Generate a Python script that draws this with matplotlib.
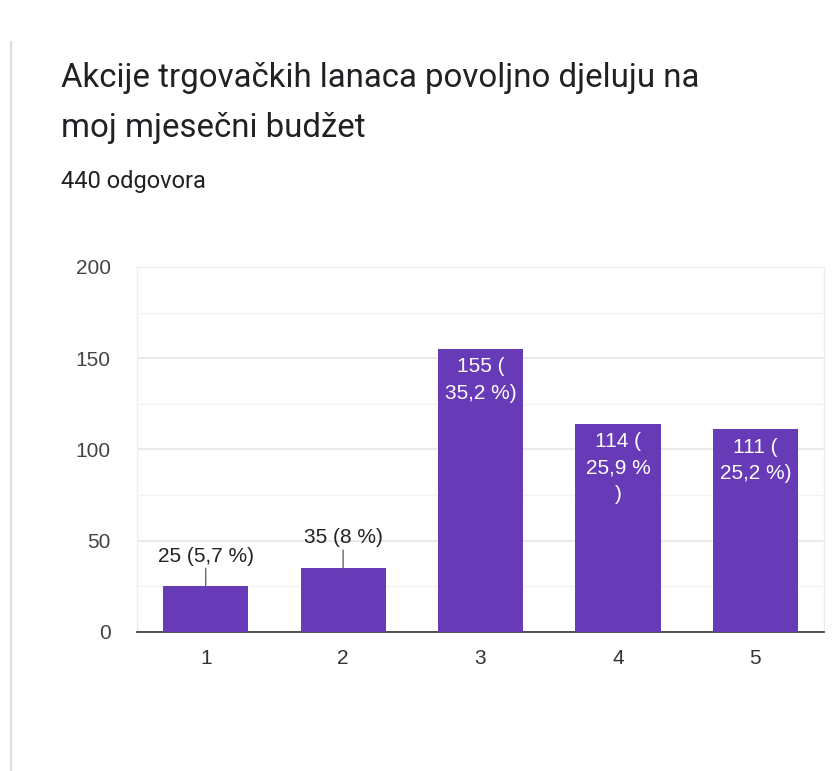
import matplotlib.pyplot as plt
from matplotlib.lines import Line2D

# data
categories = [1, 2, 3, 4, 5]
counts = [25, 35, 155, 114, 111]
bar_labels = ['25 (5,7 %)', '35 (8 %)', '155 (\n35,2 %)', '114 (\n25,9 %\n)', '111 (\n25,2 %)']
label_inside = [False, False, True, True, True]
yticks = [0, 50, 100, 150, 200]

title_lines = ['Akcije trgovačkih lanaca povoljno djeluju na', 'moj mjesečni budžet']
subtitle = '440 odgovora'

purple = '#673ab7'

fig = plt.figure(figsize=(8.4, 7.71), dpi=100)
ax = fig.add_axes([0.1631, 0.1803, 0.8179, 0.4734])

ax.bar(categories, counts, width=0.62, color=purple, zorder=3)

ax.set_xlim(0.5, 5.5)
ax.set_ylim(0, 200)
ax.set_yticks(yticks)
ax.set_yticks([25, 75, 125, 175], minor=True)
ax.set_xticks(categories)
ax.grid(axis='y', which='major', color='#e6e6e6', linewidth=1.2, zorder=0)
ax.grid(axis='y', which='minor', color='#f3f3f3', linewidth=1.0, zorder=0)
ax.tick_params(axis='both', which='both', length=0)
ax.tick_params(axis='y', pad=19, labelsize=15, labelcolor='#444444')
ax.tick_params(axis='x', pad=12, labelsize=15, labelcolor='#333333')
for lab in ax.get_xticklabels() + ax.get_yticklabels():
    lab.set_family('Liberation Sans')

ax.spines['bottom'].set_color('#333333')
ax.spines['bottom'].set_linewidth(1.2)
for s in ['left', 'right', 'top']:
    ax.spines[s].set_color('#eeeeee')
    ax.spines[s].set_linewidth(1.0)

# bar labels
for x, y, txt, inside in zip(categories, counts, bar_labels, label_inside):
    if inside:
        ax.annotate(txt, (x, y), xytext=(0, -6), textcoords='offset points',
                    ha='center', va='top', color='white', fontsize=15,
                    family='Liberation Sans', linespacing=1.5, zorder=4)
    else:
        ax.annotate(txt, (x, y), xytext=(0, 15), textcoords='offset points',
                    ha='center', va='bottom', color='#222222', fontsize=15,
                    family='Liberation Sans', zorder=4,
                    arrowprops=dict(arrowstyle='-', color='#666666', lw=1,
                                    shrinkA=0, shrinkB=0))

# title and subtitle
for line, base in zip(title_lines, [87, 137]):
    fig.text(61 / 840, 1 - base / 771, line, ha='left', va='baseline',
             fontsize=23.8, family='Roboto', color='#202124')
fig.text(61 / 840, 1 - 188 / 771, subtitle, ha='left', va='baseline',
         fontsize=17, family='Roboto', color='#202124')

# card border on the left
fig.add_artist(Line2D([11 / 840, 11 / 840], [0, 1 - 42 / 771],
                      transform=fig.transFigure, color='#dadce0', lw=1.5))

fig.savefig('out.png', dpi=100)
